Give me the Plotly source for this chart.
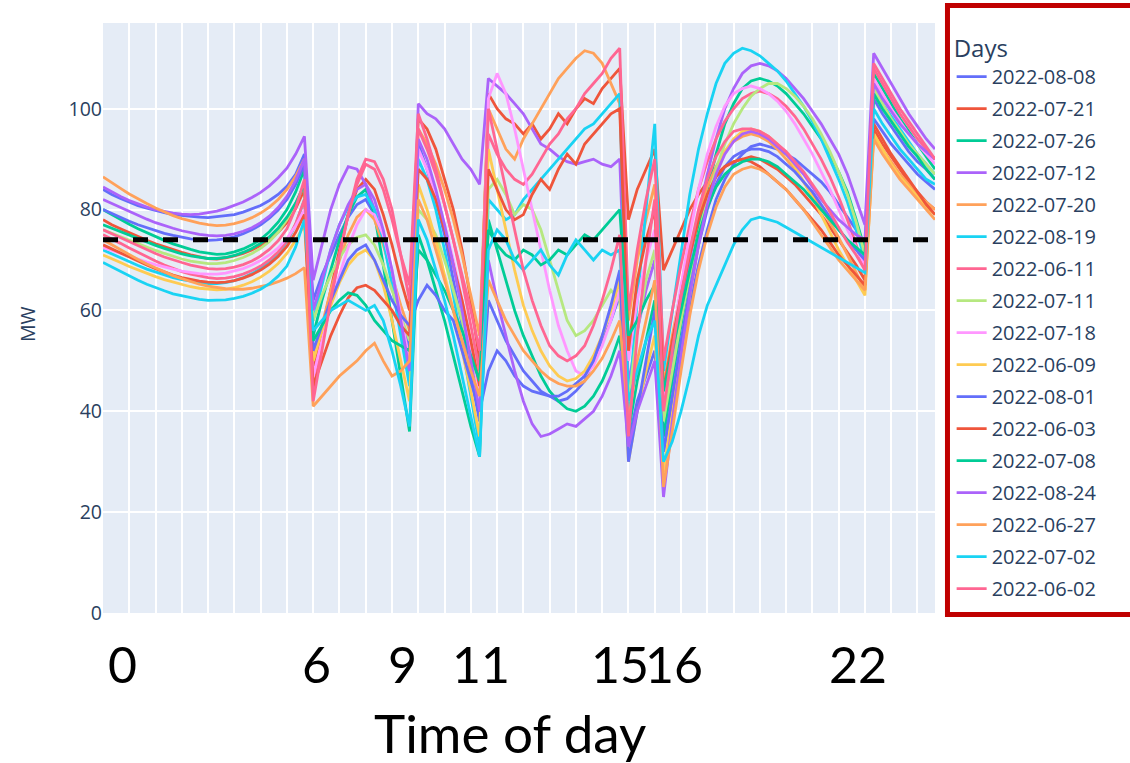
import plotly.graph_objects as go

# Quarter-hour load profiles (MW), one list per day, 96 values from 00:00 to 23:45
days = [
    "2022-08-08", "2022-07-21", "2022-07-26", "2022-07-12", "2022-07-20",
    "2022-08-19", "2022-06-11", "2022-07-11", "2022-07-18", "2022-06-09",
    "2022-08-01", "2022-06-03", "2022-07-08", "2022-08-24", "2022-06-27",
    "2022-07-02", "2022-06-02",
]

mw_2022_08_08 = [
    84, 83, 82.2, 81.5, 80.8, 80.3, 79.8, 79.4, 79.0, 78.8, 78.6, 78.5, 78.4, 78.6, 78.8, 79.0, 79.5, 80.1, 80.8, 81.8, 83.0, 84.6, 87.0, 91.0,
    62, 67, 71, 75, 78.5, 81, 82, 79, 74, 67, 59, 52,
    93, 88, 82, 75, 66, 57, 47, 38,
    62, 58, 54, 51, 48, 46, 44, 43, 42, 42.5, 44, 46, 50, 54, 58, 63,
    34, 42, 47, 52, 32,
    42, 52, 61, 69, 76, 82, 86, 89, 91, 92.5, 93, 92.5, 92, 91, 90, 88.5, 87, 85.5, 83.5, 81, 78.5, 76, 73,
    102, 99, 96.5, 94, 91.5, 89.5, 88, 86,
]
mw_2022_07_21 = [
    78, 77, 76.2, 75.4, 74.6, 73.9, 73.2, 72.6, 72.0, 71.5, 71.0, 70.6, 70.3, 70.2, 70.4, 70.8, 71.3, 72.0, 72.9, 74.0, 75.5, 77.4, 80.2, 84.0,
    48, 56, 64, 72, 79, 84, 86, 84, 79, 73, 66, 60,
    98, 96, 92, 86, 80, 72, 62, 50,
    103, 100, 98, 97, 95, 97, 94, 96, 99, 97, 100, 102, 101, 104, 106, 108,
    78, 84, 88, 92, 68,
    72, 76, 80, 83, 85.5, 87, 88.5, 89.5, 90, 90.5, 90, 89, 88, 86.5, 85, 83, 81, 79, 76.5, 74, 71.5, 69, 66,
    96, 93, 90.5, 88, 85.5, 83.5, 81.5, 80,
]
mw_2022_07_26 = [
    80, 79, 78, 77.1, 76.2, 75.4, 74.6, 73.9, 73.2, 72.6, 72.1, 71.6, 71.3, 71.1, 71.2, 71.6, 72.2, 73.0, 74.1, 75.6, 77.5, 80.0, 83.5, 88.0,
    55, 62, 68, 74, 79, 82.5, 84, 79, 69, 58, 47, 36,
    75, 70, 64, 58, 51, 44, 37, 31,
    78, 72, 66, 60, 55, 51, 47, 44, 42, 40.5, 40, 41, 43, 46, 50, 55,
    36, 46, 54, 62, 35,
    46, 57, 67, 76, 84, 91, 97, 101, 104, 105.5, 106, 105.5, 104.5, 103, 101, 99, 96.5, 94, 91, 87.5, 83.5, 78, 72,
    107, 104, 101, 98, 95.5, 93, 90.5, 88,
]
mw_2022_07_12 = [
    84.5, 83.5, 82.6, 81.8, 81.1, 80.5, 80.0, 79.6, 79.3, 79.1, 79.0, 79.1, 79.4, 79.7, 80.2, 80.8, 81.5, 82.4, 83.4, 84.7, 86.3, 88.2, 91.0, 94.5,
    66, 73, 80, 85, 88.5, 88, 85, 80, 74, 66, 57, 47,
    101, 99, 98, 96, 93, 90, 88, 85,
    106, 104.5, 103, 101, 99, 96, 93, 92, 90.5, 89.5, 89, 89.5, 90, 89, 88.5, 90,
    45, 56, 64, 70, 40,
    50, 60, 70, 79, 87, 94, 100, 104, 107, 108.5, 109, 108.5, 107.5, 106, 104, 102, 99.5, 97, 94, 91, 87, 82, 77,
    111, 108, 105, 102, 99, 96.5, 94, 92,
]
mw_2022_07_20 = [
    86.5, 85.3, 84.2, 83.1, 82.1, 81.2, 80.3, 79.5, 78.8, 78.2, 77.7, 77.3, 77.0, 76.8, 76.9, 77.2, 77.7, 78.4, 79.3, 80.5, 82.0, 84.0, 86.6, 90.0,
    50, 57, 64, 70, 75, 78.5, 80, 78, 73, 67, 61, 56,
    96, 93, 89, 84, 78, 71, 63, 55,
    100, 96, 92, 90, 94, 97, 100, 103, 106, 108, 110, 111.5, 111, 109, 105, 101,
    58, 70, 78, 85, 45,
    55, 64, 72, 79, 84.5, 88.5, 91.5, 93.5, 94.5, 95, 94.5, 93.5, 92, 90, 88, 85.5, 83, 80.5, 77.5, 74.5, 71, 67.5, 64,
    95, 92, 89.5, 87, 85, 83, 81.5, 80,
]
mw_2022_08_19 = [
    72, 71.2, 70.4, 69.6, 68.9, 68.2, 67.6, 67.0, 66.5, 66.1, 65.8, 65.5, 65.3, 65.3, 65.5, 65.9, 66.5, 67.3, 68.3, 69.6, 71.3, 73.6, 77.0, 82.0,
    58, 65, 72, 77, 80.5, 82.5, 83, 80, 74, 65, 55, 45,
    90, 86, 80, 72, 63, 53, 43, 33,
    82, 80, 78, 79, 82, 84, 86, 88, 90, 92, 94, 96, 97, 99, 101, 103,
    40, 62, 80, 97, 48,
    60, 72, 83, 92, 99, 105, 109, 111, 112, 111.5, 110.5, 109, 107.5, 105.5, 103, 100.5, 97.5, 94, 90, 86, 81.5, 76, 70,
    104, 101, 98.5, 96, 93.5, 91, 89, 87,
]
mw_2022_06_11 = [
    75, 74.2, 73.3, 72.4, 71.5, 70.6, 69.8, 69.0, 68.3, 67.7, 67.2, 66.8, 66.5, 66.3, 66.4, 66.7, 67.2, 67.9, 68.8, 70.0, 71.6, 73.8, 77.2, 82.0,
    44, 53, 62, 71, 79, 86, 90, 89.5, 86, 80, 71, 62,
    96, 92, 87, 81, 74, 66, 57, 48,
    95, 91, 88, 86, 85, 87, 90, 93, 95, 98, 100, 103, 105, 107, 110, 112,
    60, 72, 82, 90, 50,
    60, 69, 77, 84, 89.5, 94, 97.5, 100, 102, 103, 103.5, 103, 102, 100.5, 98.5, 96, 93, 90, 86.5, 82.5, 78, 73, 68,
    108, 105, 102, 99, 96.5, 94, 92, 90,
]
mw_2022_07_11 = [
    76, 75.3, 74.6, 73.9, 73.2, 72.5, 71.9, 71.3, 70.7, 70.2, 69.8, 69.5, 69.3, 69.3, 69.5, 69.9, 70.5, 71.3, 72.3, 73.7, 75.5, 78.0, 81.2, 85.0,
    58, 63, 67, 70.5, 73, 74.5, 75, 73, 69, 64, 59, 54,
    80, 78, 75, 70, 64, 58, 51, 45,
    84, 86, 83, 79, 81, 80, 76, 70, 64, 58, 55, 56, 58, 61, 64, 62,
    42, 56, 66, 72, 38,
    48, 58, 67, 75, 82, 88, 93, 97, 100, 102.5, 104, 105, 105, 104, 102.5, 100.5, 98, 95, 91.5, 87.5, 83, 77.5, 71,
    104, 101, 98, 95.5, 93, 91, 89, 87,
]
mw_2022_07_18 = [
    72.5, 71.9, 71.3, 70.7, 70.1, 69.6, 69.1, 68.6, 68.2, 67.8, 67.5, 67.3, 67.2, 67.2, 67.4, 67.8, 68.3, 69.0, 69.9, 71.0, 72.4, 74.3, 76.8, 80.0,
    47, 54, 61, 67, 72.5, 77, 80, 79, 75, 68, 59, 50,
    92, 88, 83, 77, 70, 62, 53, 44,
    102, 107, 103, 96, 88, 80, 72, 64, 57, 52, 48, 47, 49, 53, 58, 64,
    50, 62, 70, 76, 42,
    54, 65, 75, 84, 91, 96.5, 100.5, 103, 104, 104.5, 104, 103, 101.5, 99.5, 97, 94, 91, 87.5, 84, 80, 76, 72.5, 69,
    106, 103, 100, 97.5, 95, 93, 91, 89,
]
mw_2022_06_09 = [
    71, 70.3, 69.5, 68.7, 68.0, 67.3, 66.7, 66.1, 65.6, 65.1, 64.7, 64.4, 64.2, 64.1, 64.2, 64.5, 65.0, 65.7, 66.6, 67.8, 69.3, 71.3, 73.9, 77.0,
    50, 56, 61, 65.5, 69, 71, 72, 70, 65, 58, 50, 42,
    85, 80, 74, 67, 60, 52, 44, 35,
    92, 84, 76, 68, 61, 56, 52, 49, 47, 46, 46.5, 48, 51, 55, 60, 66,
    30, 40, 48, 55, 28,
    40, 52, 63, 73, 81, 87, 91.5, 94, 95.5, 96, 95.5, 94.5, 93, 91, 88.5, 85.5, 82.5, 79, 75.5, 72, 69, 66, 63,
    95, 92, 89, 86.5, 84.5, 82.5, 80.5, 79,
]
mw_2022_08_01 = [
    80, 79.2, 78.4, 77.7, 77.0, 76.4, 75.8, 75.3, 74.9, 74.5, 74.2, 74.0, 73.9, 74.0, 74.2, 74.6, 75.2, 76.0, 77.0, 78.3, 79.9, 82.0, 85.0, 89.0,
    52, 57, 62, 66, 70, 72, 73, 70, 66, 62, 59, 57,
    62, 65, 63, 60, 58, 52, 46, 40,
    48, 52, 50, 47, 45, 44, 43.5, 43, 43, 44, 45.5, 47, 50, 55, 61, 68,
    30, 40, 50, 60, 32,
    43, 54, 64, 73, 80, 85, 88.5, 90.5, 91.5, 92, 92, 91.5, 90.5, 89, 87.5, 85.5, 83.5, 81, 78.5, 76, 74, 72, 70,
    98, 95.5, 93, 91, 89, 87, 85.5, 84,
]
mw_2022_06_03 = [
    73, 72.2, 71.3, 70.5, 69.7, 69.0, 68.3, 67.6, 67.0, 66.5, 66.1, 65.8, 65.6, 65.5, 65.6, 65.9, 66.4, 67.1, 68.0, 69.2, 70.7, 72.7, 75.5, 79.0,
    45, 50, 55, 59, 62.5, 64.5, 65, 64, 62, 60, 57, 55,
    88, 86, 82, 76, 69, 62, 54, 45,
    88, 84, 80, 78, 79, 83, 86, 84, 88, 91, 89, 93, 95, 97, 99, 100,
    52, 66, 74, 80, 44,
    54, 63, 71, 78, 83, 86.5, 88.5, 89.5, 90, 89.5, 88.5, 87, 85.5, 84, 82, 80, 78, 76, 73.5, 71, 69, 67, 65,
    97, 94, 91, 88.5, 86, 83.5, 81, 79,
]
mw_2022_07_08 = [
    77, 76.3, 75.6, 74.9, 74.2, 73.5, 72.9, 72.3, 71.7, 71.2, 70.8, 70.5, 70.3, 70.3, 70.5, 70.9, 71.5, 72.3, 73.3, 74.6, 76.3, 78.5, 81.3, 85.0,
    54, 57, 60, 62, 63.5, 63, 61, 58, 56, 54, 53, 52,
    72, 70, 67, 64, 60, 56, 51, 46,
    76, 73, 71, 70, 72, 71, 69, 70, 72, 71, 73, 75, 74, 76, 78, 80,
    55, 58, 62, 65, 44,
    52, 60, 68, 75, 80.5, 84.5, 87, 88.5, 89.5, 90, 90, 89.5, 88.5, 87, 85.5, 84, 82, 80, 78, 76, 74, 72.5, 71,
    103, 100, 97.5, 95, 92.5, 90.5, 88, 86,
]
mw_2022_08_24 = [
    82, 81.2, 80.4, 79.6, 78.8, 78.1, 77.4, 76.8, 76.3, 75.8, 75.4, 75.1, 74.9, 74.8, 74.9, 75.2, 75.7, 76.4, 77.4, 78.7, 80.4, 82.6, 85.8, 90.0,
    60, 66, 72, 77, 81, 84, 85, 82, 76, 68, 58, 48,
    94, 90, 84, 77, 69, 60, 50, 40,
    70, 62, 55, 48, 42, 37.5, 35, 35.5, 36.5, 37.5, 37, 38.5, 40, 43, 47, 52,
    33, 40, 45, 50, 23,
    38, 51, 63, 73, 81, 87, 91, 93.5, 95, 95.5, 95, 94, 92.5, 91, 89, 87, 84.5, 82, 80, 78, 76.5, 75, 74,
    105, 102, 99.5, 97, 95, 93, 91.5, 90,
]
mw_2022_06_27 = [
    74, 73, 72, 71, 70.1, 69.2, 68.4, 67.6, 66.9, 66.3, 65.7, 65.2, 64.8, 64.5, 64.3, 64.2, 64.2, 64.4, 64.7, 65.1, 65.7, 66.4, 67.3, 68.5,
    41, 43, 45, 47, 48.5, 50, 52, 53.5, 50, 47, 48, 50,
    82, 78, 72, 66, 60, 54, 48, 43,
    66, 62, 58, 55, 52, 50, 48, 46.5, 45.5, 45, 45, 46, 48, 50.5, 54, 58,
    38, 50, 58, 66, 25,
    36, 48, 59, 68, 75, 80.5, 84.5, 87, 88, 88.5, 88, 87, 85.5, 84, 82, 80, 77.5, 75, 72.5, 70, 68, 66, 64,
    94, 91, 88.5, 86, 84, 82, 80, 78,
]
mw_2022_07_02 = [
    69.5, 68.6, 67.7, 66.8, 66.0, 65.2, 64.5, 63.9, 63.3, 62.9, 62.5, 62.2, 62.0, 62.0, 62.1, 62.4, 62.8, 63.4, 64.2, 65.3, 66.8, 68.8, 72.6, 78.0,
    56, 58, 60, 61, 62, 61, 60, 61, 58, 52, 45, 37,
    78, 74, 68, 62, 55, 47, 39, 31,
    72, 76, 74, 70, 68, 70, 72, 69, 67, 71, 74, 72, 70, 72, 71, 72,
    42, 48, 54, 58, 30,
    34, 40, 47, 55, 61, 65, 69, 73, 76, 78, 78.5, 78, 77.5, 76.5, 75.5, 74.5, 73.5, 72.5, 71.5, 70.5, 69.5, 68.5, 67.5,
    100, 97, 94.5, 92, 90, 88, 86, 85,
]
mw_2022_06_02 = [
    76, 75.2, 74.4, 73.6, 72.8, 72.0, 71.3, 70.6, 70.0, 69.5, 69.0, 68.6, 68.3, 68.2, 68.3, 68.6, 69.1, 69.8, 70.8, 72.1, 73.8, 76.2, 80.3, 86.0,
    42, 52, 62, 71, 79, 85, 89, 88, 84, 78, 71, 65,
    99, 94, 88, 81, 74, 67, 60, 52,
    100, 92, 84, 76, 68, 62, 57, 53, 51, 50, 51, 53, 57, 62, 68, 75,
    35, 55, 70, 82, 40,
    52, 63, 72, 80, 86, 90.5, 93.5, 95.5, 96, 96, 95.5, 94.5, 93, 91.5, 89.5, 87.5, 85, 82.5, 79.5, 76.5, 73.5, 71, 68,
    109, 106, 103, 100, 97.5, 95, 92.5, 90,
]

profiles = [
    mw_2022_08_08, mw_2022_07_21, mw_2022_07_26, mw_2022_07_12, mw_2022_07_20,
    mw_2022_08_19, mw_2022_06_11, mw_2022_07_11, mw_2022_07_18, mw_2022_06_09,
    mw_2022_08_01, mw_2022_06_03, mw_2022_07_08, mw_2022_08_24, mw_2022_06_27,
    mw_2022_07_02, mw_2022_06_02,
]

# Reference level drawn as a dashed line
threshold_mw = 74

# Hour labels written under the axis and where they sit (hours)
hour_labels = ["0", "6", "9", "11", "15", "16", "22"]
hour_label_pos = [0.55, 6.1, 8.55, 10.8, 14.75, 16.3, 21.55]

palette = ["#636efa", "#EF553B", "#00cc96", "#ab63fa", "#FFA15A",
           "#19d3f3", "#FF6692", "#B6E880", "#FF97FF", "#FECB52"]

fig = go.Figure()
for i, (day, vals) in enumerate(zip(days, profiles)):
    hours = [k * 0.25 for k in range(len(vals))]
    fig.add_trace(go.Scatter(
        x=hours, y=vals, mode="lines", name=day,
        line=dict(color=palette[i % len(palette)], width=2.8),
        legendgroup=day,
    ))

last_hour = (len(profiles[0]) - 1) * 0.25
fig.add_trace(go.Scatter(
    x=[0, last_hour], y=[threshold_mw, threshold_mw], mode="lines",
    line=dict(color="black", width=5, dash="dash"), showlegend=False,
))

big_font = dict(family="Lato, 'Liberation Sans Narrow', sans-serif", size=50, color="black")
annotations = [
    dict(x=h, y=-0.086, xref="x", yref="paper", text=t, showarrow=False,
         xanchor="center", yanchor="middle", font=big_font)
    for t, h in zip(hour_labels, hour_label_pos)
]
annotations.append(dict(x=0.489, y=-0.203, xref="paper", yref="paper", text="Time of day",
                        showarrow=False, xanchor="center", yanchor="middle",
                        font=dict(family="Lato, sans-serif", size=53, color="black")))
annotations.append(dict(x=-0.09, y=0.49, xref="paper", yref="paper", text="MW",
                        showarrow=False, textangle=-90, xanchor="center", yanchor="middle",
                        font=dict(size=19.5, color="#2a3f5f")))

fig.update_layout(
    width=1130, height=763,
    margin=dict(l=103, r=195, t=23, b=150, autoexpand=False),
    font=dict(family="'Open Sans', verdana, arial, sans-serif", size=19.5, color="#2a3f5f"),
    plot_bgcolor="#E5ECF6", paper_bgcolor="white",
    showlegend=True,
    legend=dict(title=dict(text="Days"), x=1.02, y=0.995, tracegroupgap=3,
                maxheight=740, bgcolor="rgba(0,0,0,0)", font=dict(size=20)),
    annotations=annotations,
    shapes=[dict(type="rect", xref="paper", yref="paper",
                 x0=1.015, x1=1.4, y0=-0.0025, y1=1.0297,
                 line=dict(color="#c00000", width=5), fillcolor="rgba(0,0,0,0)")],
)
fig.update_xaxes(range=[0, last_hour], tick0=0, dtick=0.75, showticklabels=False,
                 gridcolor="white", gridwidth=2, zeroline=False, ticks="")
fig.update_yaxes(range=[0, 117], dtick=20, gridcolor="white", gridwidth=2,
                 zeroline=False, ticks="")

fig.write_html("out.html")
